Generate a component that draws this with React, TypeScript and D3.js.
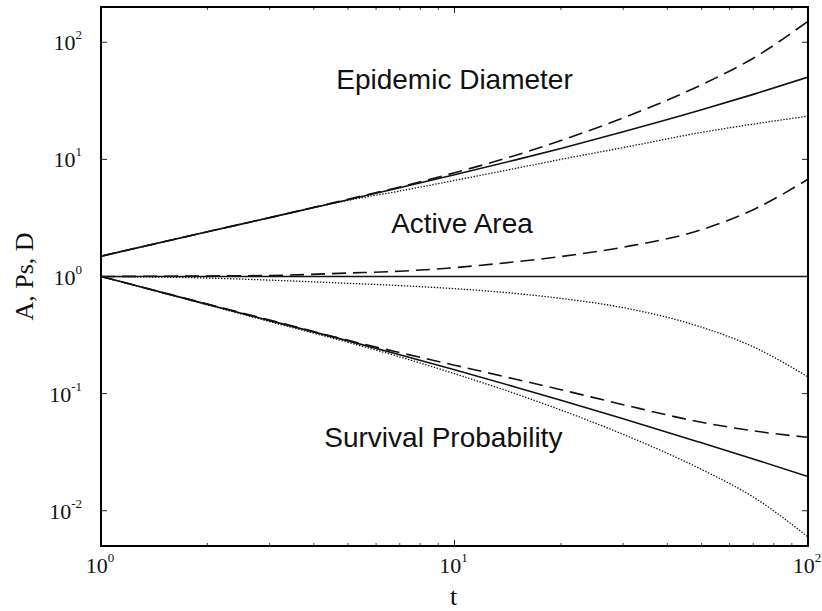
import React from 'react';
import * as d3 from 'd3';

// time points the curves are read at
const tValues = [1, 2, 3, 5, 7, 10, 15, 20, 30, 50, 70, 100];

// Epidemic Diameter
const diamDashed = [1.49, 2.41, 3.18, 4.57, 5.82, 7.69, 10.9, 14.5, 22.6, 43.4, 73.1, 151];
const diamSolid = [1.49, 2.41, 3.18, 4.53, 5.73, 7.38, 9.95, 12.4, 17.2, 26.5, 35.9, 50.4];
const diamDotted = [1.49, 2.41, 3.18, 4.47, 5.37, 6.61, 8.41, 10.0, 12.6, 17.0, 20.0, 23.4];

// Active Area
const areaDashed = [1.0, 1.01, 1.02, 1.07, 1.11, 1.19, 1.34, 1.48, 1.78, 2.51, 3.72, 6.76];
const areaSolid = [1.0, 1.0, 1.0, 1.0, 1.0, 1.0, 1.0, 1.0, 1.0, 1.0, 1.0, 1.0];
const areaDotted = [1.0, 0.97, 0.931, 0.875, 0.836, 0.787, 0.715, 0.65, 0.542, 0.369, 0.251, 0.139];

// Survival Probability
const survDashed = [1.0, 0.581, 0.425, 0.285, 0.224, 0.175, 0.132, 0.108, 0.0805, 0.0569, 0.0481, 0.0423];
const survSolid = [1.0, 0.578, 0.42, 0.282, 0.215, 0.16, 0.113, 0.0877, 0.061, 0.038, 0.0277, 0.0196];
const survDotted = [1.0, 0.573, 0.412, 0.274, 0.206, 0.148, 0.0989, 0.0724, 0.0449, 0.0225, 0.0131, 0.00598];

const xMajor = [1, 10, 100];
const xMinor = [2, 3, 4, 5, 6, 7, 8, 9, 20, 30, 40, 50, 60, 70, 80, 90];
const yMajor = [0.01, 0.1, 1, 10, 100];

const labels = [
  { text: 'Epidemic Diameter', t: 10, v: 40 },
  { text: 'Active Area', t: 10.5, v: 2.35 },
  { text: 'Survival Probability', t: 9.3, v: 0.035 },
];

const W = 822;
const H = 611;
const margin = { top: 7, right: 14, bottom: 65, left: 101 };

const styles: Record<string, { dash?: string; width: number }> = {
  dashed: { dash: '14,7', width: 1.6 },
  solid: { width: 1.6 },
  dotted: { dash: '1.4,1.6', width: 1.3 },
};

const series = [
  { values: diamDashed, style: 'dashed' },
  { values: diamSolid, style: 'solid' },
  { values: diamDotted, style: 'dotted' },
  { values: areaDashed, style: 'dashed' },
  { values: areaSolid, style: 'solid' },
  { values: areaDotted, style: 'dotted' },
  { values: survDashed, style: 'dashed' },
  { values: survSolid, style: 'solid' },
  { values: survDotted, style: 'dotted' },
];

const serif = '"Liberation Serif", "Times New Roman", serif';
const sans = '"Liberation Sans", Arial, sans-serif';

export default function App() {
  const x = d3.scaleLog().domain([1, 100]).range([margin.left, W - margin.right]);
  const y = d3.scaleLog().domain([0.005, 200]).range([H - margin.bottom, margin.top]);

  const line = d3
    .line<[number, number]>()
    .x((d) => x(d[0]))
    .y((d) => y(d[1]))
    .curve(d3.curveMonotoneX);

  const x0 = x.range()[0];
  const x1 = x.range()[1];
  const y0 = y.range()[0];
  const y1 = y.range()[1];

  const expo = (v: number) => {
    const e = Math.round(Math.log10(v));
    return e < 0 ? '-' + Math.abs(e) : String(e);
  };

  return (
    <svg width={W} height={H} style={{ position: 'absolute', left: 0, top: 0, background: '#fff' }}>
      <defs>
        <clipPath id="plot">
          <rect x={x0} y={y1} width={x1 - x0} height={y0 - y1} />
        </clipPath>
      </defs>

      <g clipPath="url(#plot)">
        {series.map((s, i) => (
          <path
            key={i}
            d={line(tValues.map((t, j) => [t, s.values[j]]) as [number, number][]) || ''}
            fill="none"
            stroke="#111"
            strokeWidth={styles[s.style].width}
            strokeDasharray={styles[s.style].dash}
          />
        ))}
      </g>

      {/* ticks, inward on all four sides */}
      {xMajor.map((t) => (
        <g key={'xM' + t}>
          <line x1={x(t)} x2={x(t)} y1={y0} y2={y0 - 6} stroke="#222" />
          <line x1={x(t)} x2={x(t)} y1={y1} y2={y1 + 6} stroke="#222" />
        </g>
      ))}
      {xMinor.map((t) => (
        <g key={'xm' + t}>
          <line x1={x(t)} x2={x(t)} y1={y0} y2={y0 - 3} stroke="#444" />
          <line x1={x(t)} x2={x(t)} y1={y1} y2={y1 + 3} stroke="#444" />
        </g>
      ))}
      {yMajor.map((v) => (
        <g key={'yM' + v}>
          <line x1={x0} x2={x0 + 6} y1={y(v)} y2={y(v)} stroke="#222" />
          <line x1={x1} x2={x1 - 6} y1={y(v)} y2={y(v)} stroke="#222" />
        </g>
      ))}

      <rect x={x0} y={y1} width={x1 - x0} height={y0 - y1} fill="none" stroke="#000" strokeWidth={2} />

      {/* y tick labels */}
      {yMajor.map((v) => (
        <text
          key={'yl' + v}
          x={x0 - 19}
          y={y(v) + 8}
          textAnchor="end"
          fontFamily={serif}
          fontSize={22}
          fill="#111"
        >
          10
          <tspan dy={-11} fontSize={13}>
            {expo(v)}
          </tspan>
        </text>
      ))}

      {/* x tick labels */}
      {xMajor.map((t) => (
        <text
          key={'xl' + t}
          x={x(t) - 1}
          y={y0 + 27}
          textAnchor="middle"
          fontFamily={serif}
          fontSize={22}
          fill="#111"
        >
          10
          <tspan dy={-11} fontSize={13}>
            {expo(t)}
          </tspan>
        </text>
      ))}

      {/* axis titles */}
      <text x={(x0 + x1) / 2 - 1} y={605} textAnchor="middle" fontFamily={serif} fontSize={26} fill="#111">
        t
      </text>
      <text
        transform={`translate(33, ${(y0 + y1) / 2}) rotate(-90)`}
        textAnchor="middle"
        fontFamily={serif}
        fontSize={26}
        fill="#111"
      >
        A, Ps, D
      </text>

      {/* curve group labels */}
      {labels.map((l) => (
        <text
          key={l.text}
          x={x(l.t)}
          y={y(l.v)}
          textAnchor="middle"
          fontFamily={sans}
          fontSize={28}
          fill="#111"
        >
          {l.text}
        </text>
      ))}
    </svg>
  );
}
